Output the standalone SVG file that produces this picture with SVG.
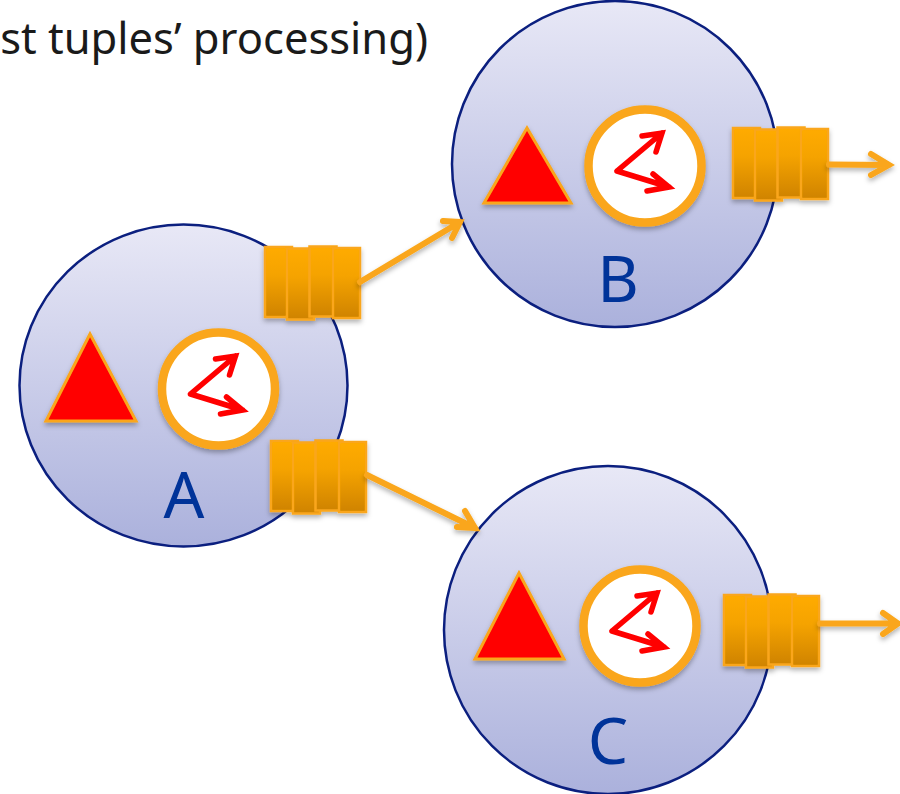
<svg xmlns="http://www.w3.org/2000/svg" width="900" height="794" viewBox="0 0 900 794">
<style>
.ball{stroke:#0b1f7f;stroke-width:2.5}
.tri{fill:#ff0000;stroke:#faa61a;stroke-width:3;stroke-linejoin:miter;filter:url(#sh)}
.clock{fill:#fff;stroke:#faa61a;stroke-width:8.500;filter:url(#sh)}
.hand{fill:none;stroke:#ff0000;stroke-width:5.500;stroke-linecap:round;stroke-linejoin:miter}
.q{fill:url(#qg);stroke:#faa61a;stroke-width:2.500}
.flow{fill:none;stroke:#faa61a;stroke-width:6;stroke-linecap:round;stroke-linejoin:miter}
.lab{font-family:"Noto Sans","DejaVu Sans",sans-serif;font-size:64px;fill:#003399;text-anchor:middle}
.title{font-family:"Noto Sans","DejaVu Sans",sans-serif;font-size:43.500px;fill:#1a1a1a;text-anchor:end}
</style>
<defs>
<linearGradient id="bg" x1="0" y1="0" x2="0" y2="1"><stop offset="0" stop-color="#e8e8f6"/><stop offset="1" stop-color="#abb1dc"/></linearGradient>
<linearGradient id="qg" x1="0" y1="0" x2="0" y2="1"><stop offset="0" stop-color="#ffab00"/><stop offset="0.4" stop-color="#f5a300"/><stop offset="1" stop-color="#cf8300"/></linearGradient>
<filter id="sh" x="-20%" y="-20%" width="140%" height="150%"><feDropShadow dx="0" dy="3" stdDeviation="2.500" flood-color="#000" flood-opacity="0.3"/></filter>
<g id="hands">
<path class="hand" d="M-28 5L17 -33M-3 -30L17 -33L11 -14M-28 5L24 21M8 8L24 21L2 25"/>
</g>
<g id="queue" filter="url(#sh)">
<rect class="q" x="0" y="0" width="27" height="70"/>
<rect class="q" x="22" y="1.500" width="27" height="71"/>
<rect class="q" x="44.500" y="-0.500" width="27" height="70"/>
<rect class="q" x="68" y="1" width="27" height="70"/>
</g>
</defs>
<rect width="900" height="794" fill="#fff"/>
<text class="title" x="428" y="54">st tuples’ processing)</text>
<g id="node-A">
<ellipse class="ball" cx="183.500" cy="385.500" rx="164" ry="161" fill="url(#bg)"/>
<polygon class="tri" points="90,334 46,421 136,421"/>
<circle class="clock" cx="218.500" cy="389" r="56.500"/>
<use href="#hands" x="218.500" y="389"/>
<text class="lab" x="184" y="518">A</text>
<use href="#queue" x="265" y="247"/>
<use href="#queue" x="271" y="441"/>
</g>
<g id="node-B">
<ellipse class="ball" cx="615" cy="164" rx="163" ry="163" fill="url(#bg)"/>
<polygon class="tri" points="527,128 484,203 571,203"/>
<circle class="clock" cx="645" cy="166" r="56.500"/>
<use href="#hands" x="645" y="166"/>
<text class="lab" x="618" y="302">B</text>
<use href="#queue" x="733" y="128"/>
</g>
<g id="node-C">
<ellipse class="ball" cx="608" cy="630" rx="164" ry="164" fill="url(#bg)"/>
<polygon class="tri" points="519,573 475,659 564,659"/>
<circle class="clock" cx="640" cy="626" r="56.500"/>
<use href="#hands" x="640" y="626"/>
<text class="lab" x="608" y="764">C</text>
<use href="#queue" x="724" y="595"/>
</g>
<g id="connectors" filter="url(#sh)">
<path class="flow" d="M360 282L460 222M443 221L460 222L452 238"/>
<path class="flow" d="M367 475L475 528M457 527L475 528L465 511"/>
<path class="flow" d="M829 164.500L889 165M871 154L889 165L871 175"/>
<path class="flow" d="M820 623.500L898 623.500M883 613L898 623.500L883 634"/>
</g>
</svg>
